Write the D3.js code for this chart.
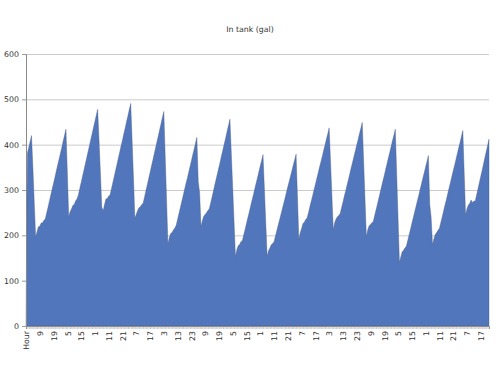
<!DOCTYPE html>
<meta charset="utf-8">
<style>
body { margin: 0; background: #fff; }
text { font-family: "DejaVu Sans", Verdana, sans-serif; fill: #333; }
.grid line { stroke: #cbcbcb; }
.grid .domain { display: none; }
.axis .domain { stroke: #8a8a8a; }
.axis line { stroke: #9a9a9a; }
</style>
<svg width="500" height="367"></svg>
<script src="https://d3js.org/d3.v7.min.js"></script>
<script>
// first row of the sheet is the header, it comes through as a 0
var header = ["Hour"];
var headerValue = 0;
var hourOfDay = [0, 1, 2, 3, 4, 5, 6, 7, 8, 9, 10, 11, 12, 13, 14, 15, 16, 17, 18, 19, 20, 21, 22, 23];

// gallons in tank, one value per hour
var day01 = [381, 394, 407, 420, 349, 272, 196, 208, 219, 220, 227, 228, 233, 236, 249, 262, 276, 289, 302, 315, 328, 342, 355, 368];
var day02 = [381, 394, 408, 421, 434, 338, 241, 252, 258, 266, 268, 276, 280, 289, 303, 316, 330, 343, 357, 370, 384, 397, 411, 424];
var day03 = [438, 451, 465, 478, 410, 338, 262, 254, 268, 280, 281, 287, 289, 302, 316, 329, 343, 356, 370, 383, 397, 410, 424, 437];
var day04 = [451, 464, 478, 491, 410, 326, 238, 246, 255, 261, 263, 268, 271, 284, 298, 311, 325, 338, 352, 365, 379, 392, 406, 419];
var day05 = [433, 446, 460, 473, 376, 279, 181, 195, 204, 206, 212, 216, 222, 235, 248, 261, 274, 287, 300, 313, 325, 338, 351, 364];
var day06 = [377, 390, 403, 416, 318, 294, 219, 232, 242, 246, 250, 255, 258, 271, 284, 297, 311, 324, 337, 350, 363, 377, 390, 403];
var day07 = [416, 430, 443, 456, 380, 305, 229, 153, 168, 177, 180, 186, 188, 201, 213, 226, 239, 251, 264, 277, 289, 302, 315, 327];
var day08 = [340, 353, 365, 378, 303, 228, 154, 166, 172, 179, 182, 186, 198, 210, 222, 234, 246, 258, 270, 282, 295, 307, 319, 331];
var day09 = [343, 355, 367, 379, 285, 191, 205, 215, 226, 229, 235, 238, 250, 263, 275, 287, 300, 312, 325, 337, 350, 362, 374, 387];
var day10 = [399, 412, 424, 437, 362, 287, 212, 228, 236, 241, 244, 248, 261, 273, 286, 298, 311, 323, 336, 349, 361, 374, 386, 399];
var day11 = [411, 424, 436, 449, 365, 281, 197, 212, 221, 224, 228, 230, 243, 256, 268, 281, 294, 307, 320, 332, 345, 358, 371, 383];
var day12 = [396, 409, 421, 434, 336, 238, 140, 152, 164, 167, 172, 176, 188, 201, 213, 226, 238, 251, 263, 276, 288, 301, 313, 326];
var day13 = [338, 351, 363, 376, 268, 240, 179, 192, 202, 206, 211, 215, 228, 240, 253, 266, 278, 291, 304, 316, 329, 342, 354, 367];
var day14 = [380, 393, 405, 418, 431, 338, 245, 258, 267, 270, 278, 272, 276, 275, 289, 302, 316, 330, 343, 357, 371, 385, 398, 412];

var yTicks = [0, 100, 200, 300, 400, 500, 600];

var days = [day01, day02, day03, day04, day05, day06, day07, day08, day09, day10, day11, day12, day13, day14];
var values = [headerValue];
var labels = header.slice();
days.forEach(function(d) {
  values = values.concat(d);
  labels = labels.concat(hourOfDay);
});

var svg = d3.select("svg"),
    margin = {top: 54, right: 11, bottom: 41, left: 26},
    width = +svg.attr("width") - margin.left - margin.right,
    height = +svg.attr("height") - margin.top - margin.bottom;

var g = svg.append("g").attr("transform", "translate(" + margin.left + "," + margin.top + ")");

var x = d3.scaleLinear().domain([0, values.length - 1]).range([0, width]);
var y = d3.scaleLinear().domain([0, 600]).range([height, 0]);

svg.append("text")
    .attr("x", 250)
    .attr("y", 32)
    .attr("text-anchor", "middle")
    .style("font-size", "7.8px")
    .text("In tank (gal)");

// gridlines
g.append("g")
    .attr("class", "grid")
    .call(d3.axisLeft(y).tickValues(yTicks).tickSize(-width).tickFormat(""));

var area = d3.area()
    .x(function(d, i) { return x(i); })
    .y0(y(0))
    .y1(function(d) { return y(d); });

g.append("path")
    .datum(values)
    .attr("fill", "#5176bb")
    .attr("stroke", "#4a5a80")
    .attr("stroke-width", 0.4)
    .attr("d", area);

g.append("g")
    .attr("class", "axis")
    .call(d3.axisLeft(y).tickValues(yTicks).tickSize(4).tickPadding(3))
    .selectAll("text")
    .style("font-size", "7.8px");

var xAxis = g.append("g")
    .attr("class", "axis")
    .attr("transform", "translate(0," + height + ")")
    .call(d3.axisBottom(x)
      .tickValues(d3.range(values.length))
      .tickSize(3)
      .tickFormat(function(i) { return i % 10 === 0 ? labels[i] : ""; }));

xAxis.selectAll(".tick line").attr("stroke-width", 0.5);

xAxis.selectAll("text")
    .style("font-size", "7.8px")
    .attr("text-anchor", "end")
    .attr("transform", "rotate(-90)")
    .attr("x", -5)
    .attr("y", 0)
    .attr("dy", "0.35em");
</script>
